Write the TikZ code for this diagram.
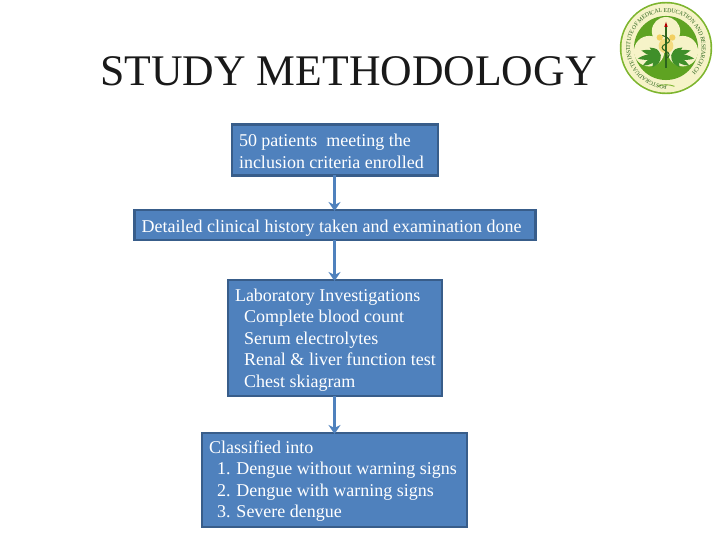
\documentclass[tikz,border=0pt]{standalone}
\usepackage{fontspec}
\setmainfont{Liberation Serif}
\usetikzlibrary{arrows.meta,decorations.text}
\definecolor{boxfill}{HTML}{4F81BD}
\definecolor{boxline}{HTML}{385D8A}
\definecolor{seald}{HTML}{5FA322}
\definecolor{sealf}{HTML}{3F8F2A}
\definecolor{sealm}{HTML}{7DB52E}
\definecolor{seall}{HTML}{F6F3C8}
\definecolor{sealy}{HTML}{F2D060}
\tikzset{
 stepbox/.style={draw=boxline,line width=2.8pt,fill=boxfill,text=white,font=\fontsize{18}{21.5}\selectfont,align=flush left,anchor=north west,outer sep=0pt,inner ysep=0pt,inner xsep=0pt,execute at begin node={\leftskip=7pt\rule{0pt}{#1}}},
 link/.style={draw=boxfill,line width=2.8pt,-{Stealth[length=9pt,width=12pt,inset=3pt]},shorten >=-1pt},
 leaflet/.style={fill=sealf,draw=none}
}
\begin{document}
\begin{tikzpicture}[x=1pt,y=-1pt]
\useasboundingbox (0,0) rectangle (720,540);
\node[font=\fontsize{43.7}{50}\selectfont,text=black!90,anchor=base west,inner sep=0pt] (title) at (100,86) {STUDY METHODOLOGY};
\node[stepbox=15.2pt,text width=206pt,minimum height=51pt] (b1) at (232,124.5) {50 patients\ \ meeting the\\inclusion criteria enrolled};
\node[stepbox=18.2pt,text width=401pt,minimum height=30pt] (b2) at (134.7,210) {Detailed clinical history taken and examination done};
\node[stepbox=16.2pt,text width=214pt,minimum height=116pt] (b3) at (228,280) {Laboratory Investigations\\\hspace*{9pt}Complete blood count\\\hspace*{9pt}Serum electrolytes\\\hspace*{9pt}Renal \& liver function test\\\hspace*{9pt}Chest skiagram};
\node[stepbox=15.2pt,text width=265pt,minimum height=94pt] (b4) at (202,433) {Classified into\\\hspace*{8pt}1. Dengue without warning signs\\\hspace*{8pt}2. Dengue with warning signs\\\hspace*{8pt}3. Severe dengue};
\coordinate (ax) at (334.5,0);
\draw[link] (b1.south -| ax) -- (b2.north -| ax);
\draw[link] (b2.south -| ax) -- (b3.north -| ax);
\draw[link] (b3.south -| ax) -- (b4.north -| ax);
% seal
\begin{scope}[shift={(666,48)},scale=1.05]
\fill[sealm] (0,0) circle (44);
\fill[seall] (0,0) circle (42.4);
\fill[seald] (0,0) circle (30.5);
\fill[seall] (0,-16) circle (13.5);
\fill[seall] (-16,3) circle (14.5);
\fill[seall] (16,3) circle (14.5);
\fill[sealy!70!seall] (0,-2) circle (7);
\fill[sealy] (-6,-10) circle (3);
\fill[sealy] (6,-10) circle (3);
\foreach \s in {-1,1}{
 \begin{scope}[shift={(\s*5,7)},xscale=\s]
 \foreach \a/\l in {-55/14,-30/20,-8/22,14/19,35/13}{
  \begin{scope}[rotate=\a]
  \fill[leaflet] (0,0) .. controls (6,-4) and (\l-6,-3) .. (\l,0) .. controls (\l-6,3) and (6,4) .. (0,0);
  \end{scope}
 }
 \end{scope}
}
\draw[sealf!70!black,line width=1.8pt] (0,-20) -- (0,19);
\draw[sealf!70!black,line width=1pt] (-3.5,-12) .. controls (5,-9) and (5,-6) .. (0,-4) .. controls (-5,-2) and (-5,1) .. (0,3) .. controls (4,5) and (4,8) .. (0,10);
\fill[red!70!black] (0,-25) .. controls (1.6,-22) .. (1.6,-20) -- (-1.6,-20) .. controls (-1.6,-22) .. cycle;
\draw[sealm,line width=.9pt] (-8,36.5) .. controls (-3,34.5) and (3,34.5) .. (8,36.5);
\path[postaction={decorate,decoration={text along path,text align=center,raise=-1.8pt,
 text={|\fontsize{5.9}{6}\selectfont\color{sealf!70!black}|POSTGRADUATE INSTITUTE OF MEDICAL EDUCATION AND RESEARCH CHANDIGARH}}}]
 (-26.7,24) arc[start angle=138,end angle=402,radius=35.9];
\end{scope}
\end{tikzpicture}
\end{document}
